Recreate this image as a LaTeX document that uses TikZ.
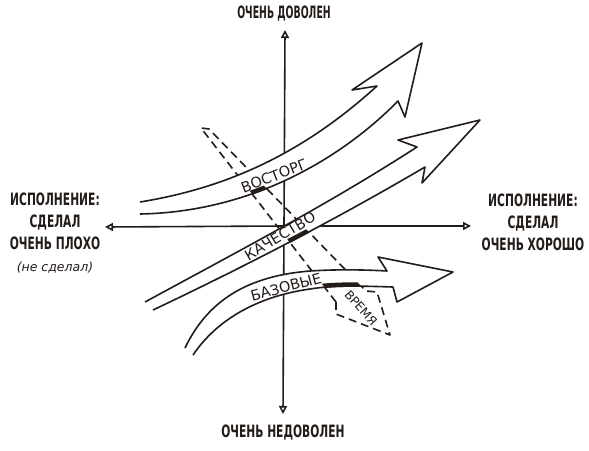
\documentclass[tikz,border=0pt]{standalone}
\usepackage{fontspec}
\newfontfamily\handfont[FakeStretch=0.63]{DejaVu Sans}
\newfontfamily\handnarrow[FakeStretch=0.55]{DejaVu Sans}
\newfontfamily\ribbonfont{DejaVu Sans}
\usetikzlibrary{arrows.meta}
\definecolor{ink}{RGB}{35,28,25}

\begin{document}
\begin{tikzpicture}[
  x=1pt, y=-1pt,
  %% styles
  axis/.style={line width=1.6pt, draw=ink,
    -{Triangle[open, length=8pt, width=8pt, line width=1.6pt]}},
  ribbon/.style={draw=ink, fill=white, line width=1.6pt, line join=round},
  timeband/.style={draw=ink, line width=1.6pt, line join=round,
    dash pattern=on 8pt off 5pt},
  shade/.style={draw=ink, line width=4.5pt},
  axlbl/.style={font=\handfont\bfseries\fontsize{17}{22}\selectfont, text=ink,
    align=center, inner sep=0pt},
  rlbl/.style={font=\ribbonfont\fontsize{14.5}{16}\selectfont, text=ink,
    inner sep=0pt}
]
\fill[white] (0,0) rectangle (589,450);
\useasboundingbox (0,0) rectangle (589,450);

%% ── axes ──────────────────────────────────────────────
\coordinate (origin) at (284,226);
\coordinate (top)    at (285,30);
\coordinate (bottom) at (283,414);
\coordinate (left)   at (105,227);
\coordinate (right)  at (471,226);
\draw[axis] (origin) -- (top);
\draw[axis] (origin) -- (bottom);
\draw[axis] (origin) -- (left);
\draw[axis] (origin) -- (right);

%% ── time (dashed, behind the ribbons) ─────────────────
\draw[timeband] (336,302) -- (201,128) -- (209,129) -- (366,291)
  -- (377,292) -- (390,335) -- (336,314) -- cycle;

%% ── ribbons ───────────────────────────────────────────
% delight
\draw[ribbon] (140,202) .. controls (220,189) and (298,158) .. (377,86)
  -- (352,90) -- (422,43) -- (405,117) -- (398,101)
  .. controls (340,160) and (250,212) .. (140,214);
% quality
\draw[ribbon] (145,302) .. controls (250,245) and (330,203) .. (417,147)
  -- (398,140) -- (480,120) -- (422,183) -- (425,167)
  .. controls (340,217) and (250,264) .. (153,310);
% basic
\draw[ribbon] (185,348) .. controls (208,300) and (248,276) .. (310,271)
  .. controls (340,269) and (370,270) .. (387,271)
  -- (378,257) -- (453,272) -- (397,302) -- (393,287)
  .. controls (360,286) and (335,285) .. (310,289)
  .. controls (260,296) and (218,318) .. (193,355);

%% shadow where time crosses the lower edges
\begin{scope}
  \clip (201,128) -- (209,129) -- (366,291) -- (336,302) -- cycle;
  \draw[shade, yshift=1.5pt] (398,101) .. controls (340,160) and (250,212) .. (140,214);
  \draw[shade, yshift=1.5pt] (425,167) .. controls (340,217) and (250,264) .. (153,310);
  \draw[shade, yshift=1.5pt] (393,287) .. controls (360,286) and (335,285) .. (310,289)
    .. controls (260,296) and (218,318) .. (193,355);
\end{scope}

%% ── labels ────────────────────────────────────────────
\node[rlbl, rotate=21] (delight) at (274,176) {ВОСТОРГ};
\node[rlbl, rotate=31] (quality) at (280,236) {КАЧЕСТВО};
\node[rlbl, rotate=15] (basic)   at (286,287) {БАЗОВЫЕ};
\node[rlbl, rotate=-48, font=\ribbonfont\fontsize{12}{13}\selectfont]
  (time) at (361,308) {ВРЕМЯ};

\node[axlbl, font=\handnarrow\bfseries\fontsize{17}{22}\selectfont]
  (happy) at (284,14) {ОЧЕНЬ ДОВОЛЕН};
\node[axlbl] (unhappy) at (283,433) {ОЧЕНЬ НЕДОВОЛЕН};
\node[axlbl] (bad)  at (55,233)
  {ИСПОЛНЕНИЕ:\\СДЕЛАЛ\\ОЧЕНЬ ПЛОХО\\{\ribbonfont\mdseries\itshape\fontsize{12.5}{22}\selectfont (не сделал)}};
\node[axlbl] (good) at (533,222) {ИСПОЛНЕНИЕ:\\СДЕЛАЛ\\ОЧЕНЬ ХОРОШО};

\end{tikzpicture}
\end{document}
